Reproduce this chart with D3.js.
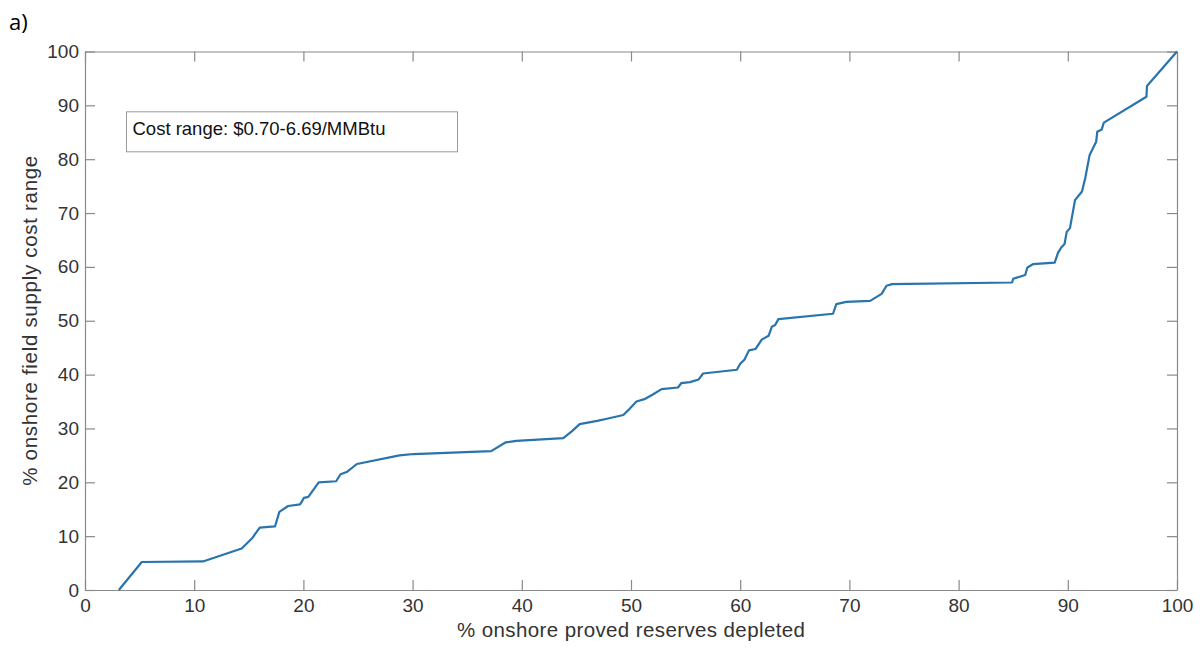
<!DOCTYPE html>
<html>
<head>
<meta charset="utf-8">
<script src="https://cdn.jsdelivr.net/npm/d3@7"></script>
<style>
  html, body { margin: 0; padding: 0; background: #fff; }
  svg { display: block; }
  text { font-family: "Liberation Sans", Arial, Helvetica, sans-serif; }
</style>
</head>
<body>
<svg id="chart" width="1200" height="650"></svg>
<script>
// Cumulative onshore proved reserves depleted (%) vs position in the field supply cost range (%)
const depletedPct = [3.1, 5.2, 10.8, 14.35, 15.3, 16.0, 17.4, 17.8, 18.6, 19.7, 20.05, 20.45, 21.4, 23.0, 23.4, 23.96, 24.9, 28.8, 30.1, 37.2, 38.5, 39.5, 43.8, 44.6, 45.3, 46.9, 47.8, 49.3, 49.75, 50.5, 51.3, 52.0, 52.8, 54.3, 54.6, 55.4, 56.2, 56.6, 59.7, 60.0, 60.4, 60.8, 61.4, 61.97, 62.6, 62.9, 63.2, 63.5, 68.5, 68.8, 69.7, 71.9, 72.95, 73.4, 73.9, 84.9, 85.0, 86.1, 86.3, 86.8, 88.8, 89.1, 89.4, 89.7, 89.9, 90.2, 90.66, 91.3, 91.6, 92.0, 92.6, 92.7, 93.1, 93.3, 97.2, 97.25, 100];
const costRangePct = [0, 5.2, 5.3, 7.7, 9.6, 11.6, 11.8, 14.5, 15.6, 15.9, 17.1, 17.3, 20.0, 20.2, 21.5, 21.9, 23.4, 25.0, 25.25, 25.8, 27.4, 27.7, 28.2, 29.5, 30.8, 31.4, 31.8, 32.5, 33.4, 35.0, 35.5, 36.3, 37.3, 37.6, 38.4, 38.6, 39.1, 40.2, 40.9, 42.0, 42.8, 44.5, 44.75, 46.5, 47.2, 48.9, 49.2, 50.3, 51.3, 53.1, 53.5, 53.7, 55.0, 56.5, 56.8, 57.1, 57.8, 58.5, 59.9, 60.5, 60.8, 62.6, 63.6, 64.25, 66.5, 67.2, 72.4, 74.0, 76.5, 80.8, 83.25, 85.1, 85.5, 86.8, 91.6, 93.6, 100];

const xTicks = [0, 10, 20, 30, 40, 50, 60, 70, 80, 90, 100];
const yTicks = [0, 10, 20, 30, 40, 50, 60, 70, 80, 90, 100];

const panelLabel = "a)";
const annotationText = "Cost range: $0.70-6.69/MMBtu";
const xTitle = "% onshore proved reserves depleted";
const yTitle = "% onshore field supply cost range";

const svg = d3.select("#chart");
const margin = { left: 85, top: 51.5, right: 23, bottom: 60 };
const W = 1200, H = 650;
const plotW = W - margin.left - margin.right;   // 1092
const plotH = H - margin.top - margin.bottom;   // 538.5

const x = d3.scaleLinear().domain([0, 100]).range([margin.left, margin.left + plotW]);
const y = d3.scaleLinear().domain([0, 100]).range([margin.top + plotH, margin.top]);

const axisColor = "#8a8a8a";
const textColor = "#333";
const tickLen = 10;

const g = svg.append("g");

// Bottom axis with inward ticks
const xAxis = g.append("g")
  .attr("transform", `translate(0,${y(0)})`)
  .call(d3.axisBottom(x).tickValues(xTicks).tickSizeInner(-tickLen).tickSizeOuter(0).tickPadding(11));
// Top axis (ticks only)
const xAxisTop = g.append("g")
  .attr("transform", `translate(0,${y(100)})`)
  .call(d3.axisTop(x).tickValues(xTicks).tickSizeInner(-tickLen).tickSizeOuter(0).tickFormat(""));
// Left axis with inward ticks
const yAxis = g.append("g")
  .attr("transform", `translate(${x(0)},0)`)
  .call(d3.axisLeft(y).tickValues(yTicks).tickSizeInner(-tickLen).tickSizeOuter(0).tickPadding(6));
// Right axis (ticks only)
const yAxisRight = g.append("g")
  .attr("transform", `translate(${x(100)},0)`)
  .call(d3.axisRight(y).tickValues(yTicks).tickSizeInner(-tickLen).tickSizeOuter(0).tickFormat(""));

[xAxis, xAxisTop, yAxis, yAxisRight].forEach(a => {
  a.select(".domain").attr("stroke", axisColor).attr("stroke-width", 1.2);
  a.selectAll(".tick line").attr("stroke", axisColor).attr("stroke-width", 1.2);
  a.selectAll(".tick text")
    .attr("fill", textColor)
    .style("font-size", "19px")
    .style("font-family", "'Liberation Sans', Arial, sans-serif");
});
xAxis.selectAll(".tick text").attr("dy", "0.6em");

// Supply cost curve
const line = d3.line()
  .x((d, i) => x(depletedPct[i]))
  .y((d, i) => y(costRangePct[i]));

g.append("path")
  .datum(depletedPct)
  .attr("d", line)
  .attr("fill", "none")
  .attr("stroke", "#2874ad")
  .attr("stroke-width", 2.2)
  .attr("stroke-linejoin", "round");

// Annotation box
const boxX = x(3.8), boxY = y(88.8), boxW = 331, boxH = 40;
g.append("rect")
  .attr("x", boxX).attr("y", boxY)
  .attr("width", boxW).attr("height", boxH)
  .attr("fill", "#fff")
  .attr("stroke", "#9a9a9a")
  .attr("stroke-width", 1);
g.append("text")
  .attr("x", boxX + 6)
  .attr("y", boxY + 18)
  .attr("dominant-baseline", "middle")
  .attr("fill", "#111")
  .style("font-size", "18.5px")
  .text(annotationText);

// Axis titles
svg.append("text")
  .attr("x", x(50))
  .attr("y", 637)
  .attr("text-anchor", "middle")
  .attr("fill", textColor)
  .style("font-size", "20.5px")
  .attr("textLength", 348)
  .attr("lengthAdjust", "spacing")
  .text(xTitle);

svg.append("text")
  .attr("transform", `translate(37,${y(50)}) rotate(-90)`)
  .attr("text-anchor", "middle")
  .attr("fill", textColor)
  .style("font-size", "20.5px")
  .attr("textLength", 330)
  .attr("lengthAdjust", "spacing")
  .text(yTitle);

// Panel label
svg.append("text")
  .attr("x", 9)
  .attr("y", 30)
  .attr("fill", "#000")
  .style("font-family", "'Open Sans', Carlito, Calibri, sans-serif")
  .style("font-size", "22px")
  .text(panelLabel);
</script>
</body>
</html>
